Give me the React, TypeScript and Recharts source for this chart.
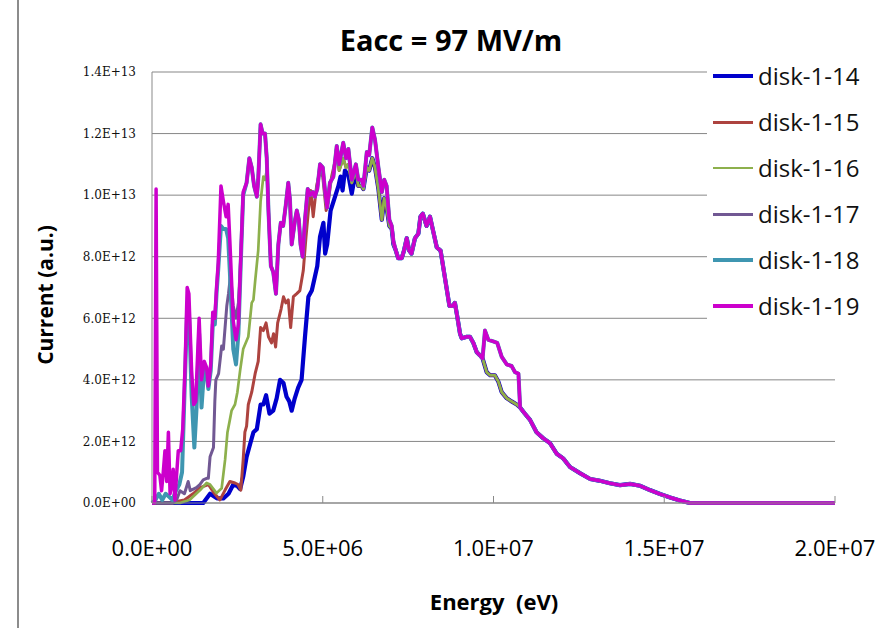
import React from "react";
import { LineChart, Line, XAxis, YAxis, CartesianGrid, Legend } from "recharts";

type Pt = [number, number];

// energy in MeV, current in units of 1E+12 (a.u.)
const seriesNames = ["disk-1-14", "disk-1-15", "disk-1-16", "disk-1-17", "disk-1-18", "disk-1-19"];
const seriesColors = ["#0000cc", "#ad433f", "#8db04c", "#715893", "#3f96b1", "#cc00cc"];
const seriesWidths = [4.2, 3, 2.7, 3, 4, 3.5];

const xTicks = [0, 5, 10, 15, 20];
const xTickLabels = ["0.0E+00", "5.0E+06", "1.0E+07", "1.5E+07", "2.0E+07"];
const yTicks = [0, 2, 4, 6, 8, 10, 12, 14];
const yTickLabels = ["0.0E+00", "2.0E+12", "4.0E+12", "6.0E+12", "8.0E+12", "1.0E+13", "1.2E+13", "1.4E+13"];

const head14: Pt[] = [
  [0, 0], [1.5, 0], [1.7, 0.3], [1.9, 0.15], [2.09, 0.15], [2.24, 0.3], [2.38, 0.6], [2.5, 0.55],
  [2.58, 0.45], [2.67, 0.85], [2.77, 1.5], [2.87, 1.9], [2.97, 2.3], [3.07, 2.4], [3.18, 3.2],
  [3.26, 3.2], [3.34, 3.5], [3.44, 2.9], [3.55, 3.0], [3.65, 3.4], [3.75, 4.0], [3.85, 3.9],
  [3.94, 3.45], [4.02, 3.3], [4.09, 3.0], [4.18, 3.4], [4.28, 3.75], [4.38, 4.0], [4.48, 5.4],
  [4.58, 6.7], [4.68, 6.9], [4.77, 7.35], [4.84, 7.7], [4.92, 8.65], [5.02, 9.1], [5.07, 8.1],
  [5.13, 8.4], [5.23, 9.5], [5.36, 9.95], [5.46, 10.3], [5.52, 10.6], [5.58, 10.15], [5.65, 10.8],
  [5.75, 10.65], [5.85, 10.05],
];

const head15: Pt[] = [
  [0, 0], [0.6, 0], [0.72, 0.05], [0.95, 0.1], [1.2, 0.3], [1.41, 0.5], [1.65, 0.6], [1.8, 0.35],
  [1.99, 0.1], [2.14, 0.42], [2.28, 0.7], [2.43, 0.65], [2.52, 0.6], [2.6, 0.42], [2.67, 1.4],
  [2.72, 2.3], [2.77, 2.5], [2.82, 3.2], [2.92, 3.6], [3.02, 4.2], [3.11, 4.6], [3.18, 5.7],
  [3.26, 5.6], [3.34, 5.85], [3.41, 5.4], [3.5, 5.2], [3.56, 5.5], [3.62, 5.07], [3.68, 5.85],
  [3.78, 6.3], [3.85, 6.7], [3.92, 6.5], [3.99, 6.6], [4.06, 5.7], [4.14, 6.7], [4.24, 6.8],
  [4.33, 6.9], [4.43, 7.55], [4.51, 8.65], [4.58, 9.5], [4.65, 10.15], [4.72, 9.3], [4.82, 10.3],
  [4.92, 10.8], [5.0, 10.6], [5.1, 9.5], [5.16, 9.8], [5.26, 10.6], [5.41, 11.35],
];

const head16: Pt[] = [
  [0, 0], [0.82, 0], [0.95, 0.05], [1.1, 0.1], [1.2, 0.2], [1.41, 0.42], [1.6, 0.65], [1.7, 0.6],
  [1.89, 0.32], [2.04, 0.48], [2.14, 1.4], [2.21, 2.3], [2.28, 2.7], [2.33, 3.0], [2.43, 3.2],
  [2.5, 3.6], [2.58, 4.3], [2.67, 5.0], [2.82, 5.4], [2.92, 6.5], [2.97, 6.6], [3.02, 7.2],
  [3.11, 8.2], [3.18, 9.8], [3.26, 10.6], [3.31, 10.5], [3.36, 10.8],
];

const head17: Pt[] = [
  [0, 0], [0.6, 0], [0.72, 0.1], [0.82, 0.4], [0.95, 0.3], [1.06, 0.7], [1.12, 0.4], [1.21, 0.45],
  [1.3, 0.5], [1.4, 0.6], [1.5, 0.75], [1.6, 0.8], [1.65, 0.8], [1.7, 1.5], [1.8, 1.8], [1.84, 3.3],
  [1.87, 4.0], [1.95, 4.2], [2.04, 5.1], [2.09, 5.0], [2.19, 6.4], [2.24, 6.8], [2.3, 7.4],
  [2.38, 6.4], [2.46, 6.0], [2.53, 6.5], [2.6, 8.0], [2.67, 10.0],
];

const head18: Pt[] = [
  [0, 0], [0.1, 0.1], [0.2, 0.3], [0.3, 0.1], [0.4, 0.3], [0.5, 0.2], [0.6, 0.1], [0.7, 0.4],
  [0.8, 0.6], [0.88, 1.0], [0.95, 3.5], [1.03, 6.3], [1.09, 6.0], [1.16, 3.5], [1.24, 1.8],
  [1.3, 3.0], [1.38, 5.5], [1.45, 3.1], [1.53, 4.4], [1.6, 4.2], [1.65, 3.7], [1.72, 4.3],
  [1.78, 5.8], [1.84, 5.8], [1.89, 6.8], [1.94, 7.6], [2.02, 9.0], [2.09, 8.9], [2.17, 8.9],
  [2.23, 8.6], [2.28, 7.5], [2.38, 5.0], [2.46, 4.5], [2.53, 5.5], [2.6, 7.8], [2.67, 10.0],
];

const head19: Pt[] = [
  [0, 0], [0.08, 0], [0.12, 10.2], [0.16, 1.0], [0.23, 0.9], [0.28, 0.4], [0.33, 1.0], [0.38, 1.7],
  [0.43, 0.7], [0.48, 2.3], [0.53, 0.3], [0.58, 0.6], [0.62, 1.1], [0.67, 0.1], [0.72, 0.9],
  [0.77, 1.7], [0.84, 1.7], [0.9, 2.4], [0.97, 4.5], [1.03, 7.0], [1.08, 6.8], [1.16, 4.3],
  [1.22, 3.2], [1.28, 3.3], [1.38, 6.0], [1.45, 4.0], [1.53, 4.6], [1.6, 4.4], [1.65, 3.8],
  [1.72, 4.5], [1.78, 6.2], [1.84, 6.0], [1.89, 7.0], [1.94, 7.8], [2.02, 10.3], [2.09, 9.8],
  [2.17, 9.3], [2.23, 9.7], [2.28, 8.5], [2.38, 5.9], [2.46, 5.3], [2.53, 5.8], [2.6, 8.0],
  [2.67, 10.1],
];

const upperMid: Pt[] = [
  [2.77, 10.4], [2.85, 11.2], [2.92, 10.9], [2.99, 10.3], [3.07, 9.95], [3.11, 10.5], [3.18, 12.3],
  [3.24, 12.0], [3.31, 12.0], [3.36, 11.2], [3.41, 9.5], [3.48, 7.7], [3.55, 7.5], [3.63, 6.8],
  [3.7, 8.4], [3.77, 9.1], [3.84, 9.0], [3.92, 9.7], [3.99, 10.4], [4.04, 9.85], [4.09, 8.4],
  [4.19, 9.2], [4.24, 9.5], [4.3, 9.2], [4.35, 8.4], [4.41, 8.0], [4.48, 9.2], [4.56, 10.2],
  [4.63, 10.0], [4.71, 10.1], [4.77, 9.95], [4.84, 10.2], [4.92, 11.0], [5.0, 10.9], [5.07, 10.1],
  [5.13, 9.6], [5.21, 10.4], [5.31, 10.6], [5.41, 11.6],
];

const peakUpper: Pt[] = [
  [5.48, 11.0], [5.6, 11.7], [5.68, 11.2], [5.75, 11.5], [5.85, 10.5], [5.97, 11.0], [6.04, 10.5],
  [6.14, 10.5], [6.19, 10.3], [6.29, 11.4], [6.36, 11.3], [6.45, 12.2], [6.53, 11.8], [6.63, 10.9],
  [6.73, 10.1], [6.8, 10.5], [6.87, 10.3], [6.95, 9.2], [7.02, 9.0], [7.07, 8.5], [7.14, 8.2],
  [7.21, 7.95],
];

const peakLower: Pt[] = [
  [5.48, 10.8], [5.6, 11.2], [5.68, 10.9], [5.75, 11.0], [5.85, 10.4], [5.97, 10.8], [6.04, 10.3],
  [6.14, 10.3], [6.19, 10.2], [6.29, 10.9], [6.36, 10.8], [6.45, 11.2], [6.53, 10.9], [6.63, 10.2],
  [6.73, 9.2], [6.8, 9.9], [6.87, 9.6], [6.95, 9.0], [7.02, 8.9], [7.07, 8.4], [7.14, 8.2],
  [7.21, 7.95],
];

const tailStart: Pt[] = [
  [7.31, 7.95], [7.38, 8.2], [7.46, 8.6], [7.53, 8.2], [7.6, 8.1], [7.7, 8.6], [7.8, 8.75],
  [7.86, 9.3], [7.93, 9.4], [8.04, 9.0], [8.14, 9.3], [8.24, 8.8], [8.34, 8.3], [8.45, 8.2],
  [8.58, 7.3], [8.71, 6.4], [8.8, 6.4], [8.87, 6.5], [8.94, 6.05], [9.02, 5.5], [9.07, 5.35],
  [9.22, 5.4], [9.31, 5.4], [9.41, 5.2], [9.51, 4.9], [9.6, 4.8], [9.68, 4.7],
];

const bumpHigh: Pt[] = [
  [9.75, 5.6], [9.85, 5.3], [9.99, 5.25], [10.11, 5.2], [10.24, 4.75], [10.39, 4.5], [10.53, 4.45],
  [10.63, 4.25], [10.73, 4.2], [10.78, 3.1],
];

const bumpLow: Pt[] = [
  [9.8, 4.25], [9.9, 4.15], [10.04, 4.15], [10.14, 3.95], [10.24, 3.6], [10.39, 3.4], [10.53, 3.3],
  [10.68, 3.2], [10.78, 3.1],
];

const tailEnd: Pt[] = [
  [10.92, 2.9], [11.07, 2.7], [11.26, 2.3], [11.46, 2.1], [11.65, 1.95], [11.85, 1.6], [12.04, 1.45],
  [12.24, 1.17], [12.53, 0.97], [12.83, 0.78], [13.12, 0.72], [13.41, 0.64], [13.7, 0.58], [14.0, 0.62],
  [14.29, 0.56], [14.58, 0.42], [14.88, 0.29], [15.17, 0.18], [15.46, 0.08], [15.75, 0], [20, 0],
];

// glue segments together, keeping x increasing
const join = (...parts: Pt[][]) => {
  const out: Pt[] = [];
  parts.forEach((p) =>
    p.forEach((pt) => {
      if (!out.length || pt[0] > out[out.length - 1][0]) out.push(pt);
    })
  );
  return out.map(([x, y]) => ({ x, y }));
};

const seriesData = [
  join(head14, peakLower, tailStart, bumpLow, tailEnd),
  join(head15, peakLower, tailStart, bumpLow, tailEnd),
  join(head16, upperMid, peakLower, tailStart, bumpLow, tailEnd),
  join(head17, upperMid, peakUpper, tailStart, bumpHigh, tailEnd),
  join(head18, upperMid, peakUpper, tailStart, bumpHigh, tailEnd),
  join(head19, upperMid, peakUpper, tailStart, bumpHigh, tailEnd),
];

const LegendBox = () => (
  <div style={{ background: "#fff", width: 187 }}>
    {seriesNames.map((n, i) => (
      <div key={n} style={{ display: "flex", alignItems: "center", height: 46 }}>
        <span
          style={{
            display: "inline-block",
            marginLeft: 6,
            width: 40,
            height: seriesWidths[i],
            background: seriesColors[i],
          }}
        />
        <span style={{ marginLeft: 5, fontFamily: "'Open Sans'", fontSize: 24, color: "#111", lineHeight: 1 }}>
          {n}
        </span>
      </div>
    ))}
  </div>
);

export default function App() {
  return (
    <div style={{ position: "absolute", left: 0, top: 0, width: 894, height: 628, background: "#fff" }}>
      <div style={{ position: "absolute", left: 17, top: 0, width: 2, height: 628, background: "#8c8c8c" }} />
      <div
        style={{
          position: "absolute",
          left: 0,
          top: 25,
          width: 902,
          textAlign: "center",
          fontFamily: "'Open Sans'",
          fontWeight: 700,
          fontSize: 29,
          lineHeight: 1,
          color: "#000",
        }}
      >
        Eacc = 97 MV/m
      </div>
      <LineChart width={894} height={628} margin={{ top: 72, right: 59, bottom: 95, left: 92 }}>
        <CartesianGrid vertical={false} stroke="#878787" />
        <XAxis
          type="number"
          dataKey="x"
          domain={[0, 20]}
          ticks={xTicks}
          tickFormatter={(v: number, i: number) => xTickLabels[i]}
          tickSize={-7}
          tickMargin={44}
          stroke="#898989"
          tick={{ fill: "#000", fontSize: 22, fontFamily: "'Open Sans'" }}
          allowDuplicatedCategory={false}
        />
        <YAxis
          type="number"
          dataKey="y"
          domain={[0, 14]}
          ticks={yTicks}
          width={60}
          tickFormatter={(v: number, i: number) => yTickLabels[i]}
          tickLine={false}
          tickMargin={10}
          stroke="#898989"
          tick={{ fill: "#111", fontSize: 12, fontFamily: "'DejaVu Serif'" }}
        />
        {seriesData.map((d, i) => (
          <Line
            key={seriesNames[i]}
            data={d}
            dataKey="y"
            name={seriesNames[i]}
            type="linear"
            stroke={seriesColors[i]}
            strokeWidth={seriesWidths[i]}
            strokeLinejoin="round"
            dot={false}
            activeDot={false}
            isAnimationActive={false}
          />
        ))}
        <Legend
          layout="vertical"
          align="center"
          verticalAlign="middle"
          content={() => <LegendBox />}
          wrapperStyle={{ left: 707, top: 53, width: 187, height: 276 }}
        />
      </LineChart>
      <svg
        width={894}
        height={628}
        style={{ position: "absolute", left: 0, top: 0, pointerEvents: "none" }}
      >
        <text
          x={45}
          y={295}
          transform="rotate(-90 45 295)"
          textAnchor="middle"
          dominantBaseline="central"
          fontFamily="'Open Sans'"
          fontWeight={700}
          fontSize={21}
        >
          Current (a.u.)
        </text>
        <text
          x={494}
          y={610}
          textAnchor="middle"
          fontFamily="'Open Sans'"
          fontWeight={700}
          fontSize={22}
          style={{ whiteSpace: "pre" }}
        >
          {"Energy  (eV)"}
        </text>
      </svg>
    </div>
  );
}
